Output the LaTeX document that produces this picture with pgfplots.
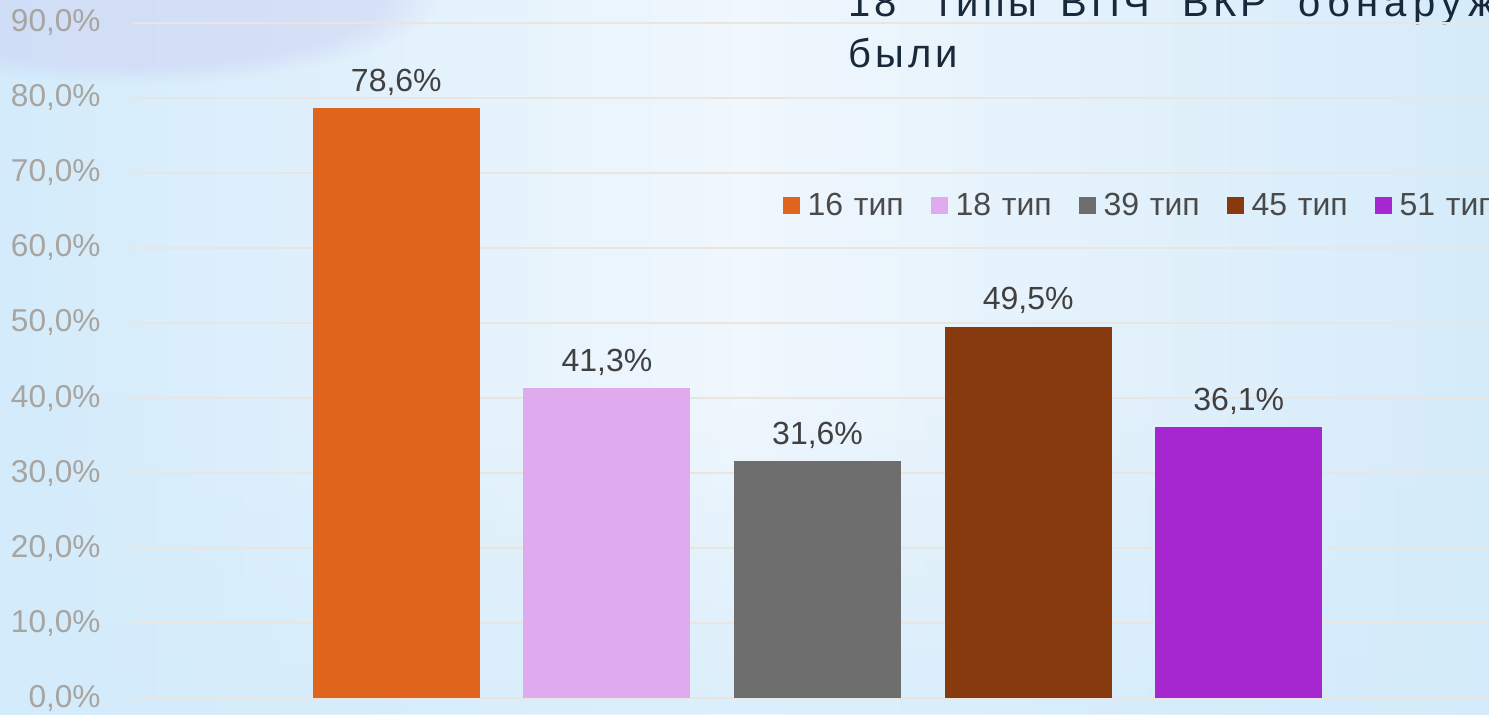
\documentclass[border=0pt]{standalone}
\usepackage{pgfplots}
\pgfplotsset{compat=1.18}
\usetikzlibrary{fadings}
\usepackage{fontspec}
\setmainfont{Liberation Sans}
\newfontfamily\titlefont[LetterSpace=10]{Liberation Sans}
\newfontfamily\titlefontw[LetterSpace=16]{Liberation Sans}
\definecolor{c16}{HTML}{E0641B}
\definecolor{c18}{HTML}{DFAAEE}
\definecolor{c39}{HTML}{6E6E6E}
\definecolor{c45}{HTML}{873A0E}
\definecolor{c51}{HTML}{A626D0}
\definecolor{gridc}{HTML}{E9E6E1}
\definecolor{tickc}{HTML}{A8A49F}
\definecolor{valc}{HTML}{404040}
\definecolor{legc}{HTML}{4A4A4A}
\definecolor{titlec}{HTML}{17293A}
\definecolor{bgL}{HTML}{D3EBFB}
\definecolor{bgM}{HTML}{F0F7FD}
\definecolor{bgR}{HTML}{D5EBFA}
\definecolor{blob}{HTML}{CDD1F3}
\begin{document}
\begin{tikzpicture}
\useasboundingbox (0,0) rectangle (744.5pt,357pt);
\clip (0,0) rectangle (744.5pt,357pt);
\shade[left color=bgL, right color=bgR, middle color=bgM] (0,0) rectangle (744.5pt,357pt);
\fill[bgL, path fading=north, opacity=0.7] (0,0) rectangle (744.5pt,160pt);
\fill[blob, path fading=circle with fuzzy edge 20 percent, opacity=0.5] (70pt,360pt) ellipse (150pt and 45pt);
\begin{scope}[every node/.style={anchor=base west, inner sep=0pt, text=titlec, font=\titlefont\fontsize{20}{24}\selectfont}]
\node at (424pt,348.5pt) {18};
\node at (467pt,348.5pt) {типы};
\node at (530pt,348.5pt) {ВПЧ};
\node at (591pt,348.5pt) {ВКР};
\node[font=\titlefontw\fontsize{20}{24}\selectfont] at (649pt,348.5pt) {обнаружены};
\node at (424pt,323pt) {были};
\end{scope}
\begin{axis}[
  at={(65.8pt,7.85pt)}, anchor=south west,
  width=678.7pt, height=337.8pt, scale only axis,
  xmin=-1.257, xmax=5.188, ymin=0, ymax=90,
  ybar, bar width=83.5pt,
  axis line style={draw=none}, major tick length=0pt,
  xtick=\empty, ytick={0,10,...,90},
  ymajorgrids, grid style={gridc, line width=1pt},
  /pgf/number format/assume math mode=true,
  yticklabel={\pgfmathprintnumber[fixed,fixed zerofill,precision=1,use comma]{\tick}\%},
  yticklabel style={text=tickc, font=\fontsize{15.8}{18}\selectfont, anchor=east, inner sep=0pt, xshift=-15.3pt},
  nodes near coords={\pgfmathprintnumber[fixed,fixed zerofill,precision=1,use comma]{\pgfplotspointmeta}\%},
  every node near coord/.append style={text=valc, font=\fontsize{16}{18}\selectfont, anchor=base, inner sep=0pt, yshift=8.5pt},
  legend columns=5,
  legend style={at={(0.4796,0.7288)}, anchor=west, draw=none, fill=none, inner sep=0pt, outer sep=0pt,
    font=\fontsize{16}{18}\selectfont, text=legc,
    nodes={inner sep=0pt, text width=61.5pt, align=left},
    /tikz/every odd column/.append style={column sep=4pt}},
  legend image code/.code={\fill[#1] (0pt,-4.25pt) rectangle (8.5pt,4.25pt);},
  clip=false,
]
\addplot[fill=c16, draw=none, bar shift=0pt] coordinates {(0,78.6)};
\addplot[fill=c18, draw=none, bar shift=0pt] coordinates {(1,41.3)};
\addplot[fill=c39, draw=none, bar shift=0pt] coordinates {(2,31.6)};
\addplot[fill=c45, draw=none, bar shift=0pt] coordinates {(3,49.5)};
\addplot[fill=c51, draw=none, bar shift=0pt] coordinates {(4,36.1)};
\legend{16 тип, 18 тип, 39 тип, 45 тип, 51 тип}
\end{axis}
\end{tikzpicture}
\end{document}
